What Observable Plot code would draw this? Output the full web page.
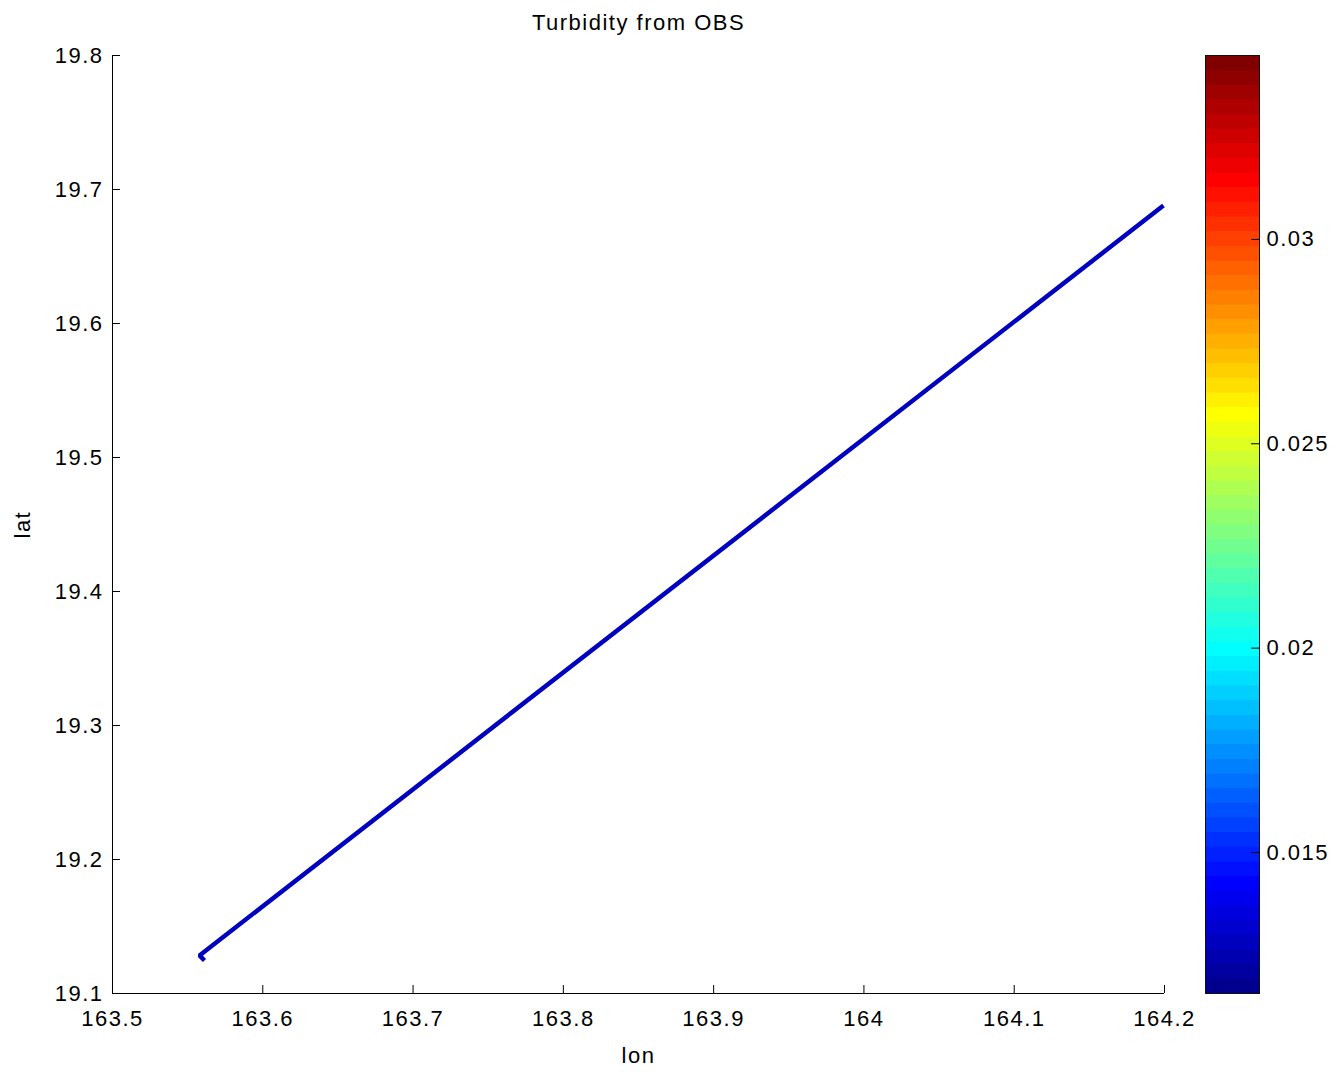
<!DOCTYPE html>
<html>
<head>
<meta charset="utf-8">
<script src="https://cdn.jsdelivr.net/npm/d3@7"></script>
<script src="https://cdn.jsdelivr.net/npm/@observablehq/plot@0.6"></script>
<style>
  body { margin: 0; background: #fff; }
  #wrap { position: relative; width: 1342px; height: 1074px; overflow: hidden; }
  #wrap svg { position: absolute; top: 0; }
  #wrap svg text { font-family: "Liberation Sans", Arial, sans-serif; letter-spacing: 1.5px; fill: #000; }
</style>
</head>
<body>
<div id="wrap"></div>
<script>
// ---- data ----
const lon = [163.5612, 163.5579, 164.1993];
const lat = [19.1246, 19.1284, 19.6880];
const turbidity = [0.0128, 0.0128, 0.0128];

const xTicks = [163.5, 163.6, 163.7, 163.8, 163.9, 164, 164.1, 164.2];
const yTicks = [19.1, 19.2, 19.3, 19.4, 19.5, 19.6, 19.7, 19.8];
const cTicks = [0.015, 0.02, 0.025, 0.03];
const cDomain = [0.01155, 0.0345];
const titleText = "Turbidity from OBS";
const xLabel = "lon";
const yLabel = "lat";

// ---- MATLAB jet(64) colormap ----
function jetMap(n) {
  const m = Math.ceil(n / 4);
  const u = [];
  for (let i = 1; i <= m; i++) u.push(i / m);
  for (let i = 0; i < m - 1; i++) u.push(1);
  for (let i = m; i >= 1; i--) u.push(i / m);
  const g0 = Math.ceil(m / 2) - (n % 4 === 1 ? 1 : 0);
  const R = new Array(n).fill(0), G = new Array(n).fill(0), B = new Array(n).fill(0);
  u.forEach((v, k) => {
    const g = g0 + k + 1, r = g + m, b = g - m;
    if (g >= 1 && g <= n) G[g - 1] = v;
    if (r >= 1 && r <= n) R[r - 1] = v;
    if (b >= 1 && b <= n) B[b - 1] = v;
  });
  return R.map((r, i) => `rgb(${Math.round(r * 255)},${Math.round(G[i] * 255)},${Math.round(B[i] * 255)})`);
}
const N = 64;
const jet = jetMap(N);
const step = (cDomain[1] - cDomain[0]) / N;
const thresholds = d3.range(1, N).map(i => cDomain[0] + i * step);
const bands = d3.range(N).map(i => ({y1: cDomain[0] + i * step, y2: cDomain[0] + (i + 1) * step, v: cDomain[0] + (i + 0.5) * step}));
const colorScale = {type: "threshold", domain: thresholds, range: jet};

const track = lon.map((x, i) => ({lon: x, lat: lat[i], turb: turbidity[i]}));

const W = 1342, H = 1074;
const mL = 112, mR = W - 1164, mT = 55, mB = H - 993;
const frameW = W - mL - mR, frameH = H - mT - mB;
const tick = 8;

const main = Plot.plot({
  width: W, height: H,
  marginLeft: mL, marginRight: mR, marginTop: mT, marginBottom: mB,
  style: {fontSize: "22px", fontFamily: "Liberation Sans, Arial, sans-serif", background: "transparent"},
  x: {domain: [163.5, 164.2]},
  y: {domain: [19.1, 19.8]},
  color: colorScale,
  marks: [
    Plot.ruleY([19.1], {stroke: "#000", strokeWidth: 1}),
    Plot.ruleX([163.5], {stroke: "#000", strokeWidth: 1}),
    Plot.tickX(xTicks, {x: d => d, insetTop: frameH - tick, stroke: "#000"}),
    Plot.tickY(yTicks, {y: d => d, insetRight: frameW - tick, stroke: "#000"}),
    Plot.axisX(xTicks, {tickSize: 0, tickPadding: 17, tickFormat: d => String(d), fill: "#000", label: null}),
    Plot.axisY(yTicks, {tickSize: 0, tickPadding: 9, tickFormat: d => String(d), fill: "#000", label: null}),
    Plot.line(track, {x: "lon", y: "lat", stroke: "turb", strokeWidth: 4.5, strokeLinejoin: "miter", strokeLinecap: "butt"}),
    Plot.text([titleText], {frameAnchor: "top", dy: -41, fontSize: 22, fill: "#000", text: d => d}),
    Plot.text([xLabel], {frameAnchor: "bottom", dy: 69, fontSize: 22, fill: "#000", text: d => d}),
    Plot.text([yLabel], {frameAnchor: "left", dx: -90, dy: 14, rotate: -90, fontSize: 22, fill: "#000", text: d => d})
  ]
});

const cbLeft = 1205, cbW = 54;
const cbar = Plot.plot({
  width: W - cbLeft, height: H,
  marginLeft: 0, marginRight: W - cbLeft - cbW, marginTop: mT, marginBottom: mB,
  style: {fontSize: "22px", fontFamily: "Liberation Sans, Arial, sans-serif", background: "transparent"},
  x: {axis: null},
  y: {domain: cDomain, axis: null},
  color: colorScale,
  marks: [
    Plot.rect(bands, {y1: "y1", y2: "y2", fill: "v", stroke: "v", strokeWidth: 0.6, shapeRendering: "crispEdges"}),
    Plot.tickY(cTicks, {y: d => d, insetLeft: cbW - tick, stroke: "#000"}),
    Plot.axisY(cTicks, {anchor: "right", tickSize: 0, tickPadding: 7, tickFormat: d => String(d), fill: "#000", label: null}),
    Plot.frame({stroke: "#111", strokeWidth: 1})
  ]
});
cbar.style.left = cbLeft + "px";
main.style.left = "0px";

document.getElementById("wrap").append(main, cbar);
</script>
</body>
</html>
